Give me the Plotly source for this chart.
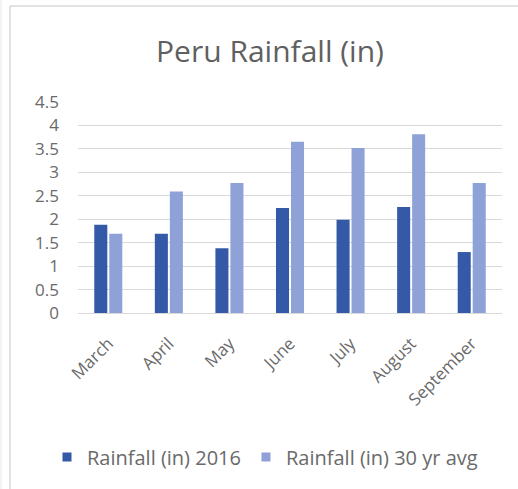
import plotly.graph_objects as go

months = ["March", "April", "May", "June", "July", "August", "September"]
rain_2016 = [1.88, 1.69, 1.38, 2.24, 1.99, 2.26, 1.30]
rain_30yr = [1.69, 2.59, 2.77, 3.65, 3.52, 3.81, 2.77]
y_ticks = [0, 0.5, 1, 1.5, 2, 2.5, 3, 3.5, 4, 4.5]
y_tick_text = ["0", "0.5", "1", "1.5", "2", "2.5", "3", "3.5", "4", "4.5"]
series_names = ["Rainfall (in) 2016", "Rainfall (in) 30 yr avg"]
series_colors = ["#3459A6", "#8EA2D8"]
title_text = "Peru Rainfall (in)"

W, H = 518, 489
L, R, T, B = 78, 16, 102, 176
pw, ph = W - L - R, H - T - B

FONT = "Open Sans, sans-serif"
TXT = "#6a6a6a"

fig = go.Figure()
for vals, name, col in zip([rain_2016, rain_30yr], series_names, series_colors):
    fig.add_trace(go.Bar(x=months, y=vals, name=name, showlegend=False,
                         marker=dict(color=col, line=dict(width=0))))
# legend entries with small square symbols
for name, col in zip(series_names, series_colors):
    fig.add_trace(go.Scatter(x=[None], y=[None], mode="markers", name=name,
                             marker=dict(symbol="square", size=9, color=col),
                             showlegend=True, hoverinfo="skip"))

def px2x(px):
    return (px - L) / pw

def py2y(py):
    return (H - B - py) / ph

shapes = [
    dict(type="line", xref="paper", yref="paper", x0=px2x(10), x1=px2x(10),
         y0=py2y(6), y1=py2y(489), line=dict(color="#d9d9d9", width=1.5)),
    dict(type="line", xref="paper", yref="paper", x0=px2x(10), x1=px2x(518),
         y0=py2y(6), y1=py2y(6), line=dict(color="#d9d9d9", width=1.5)),
    dict(type="line", xref="paper", yref="paper", x0=px2x(1), x1=px2x(1),
         y0=py2y(0), y1=py2y(489), line=dict(color="#e6e6e6", width=1)),
]

fig.update_layout(
    width=W, height=H,
    margin=dict(l=L, r=R, t=T, b=B),
    paper_bgcolor="white", plot_bgcolor="white",
    barmode="group", bargap=0.505, bargroupgap=0.13,
    title=dict(text=title_text, x=270 / W, xanchor="center", xref="container",
               y=(H - 51) / H, yanchor="middle", yref="container",
               font=dict(family=FONT, size=30, color="#606060")),
    font=dict(family=FONT, color=TXT),
    xaxis=dict(showgrid=False, showline=True, linecolor="#d9d9d9", linewidth=1,
               tickangle=-45, tickfont=dict(size=17, color=TXT),
               ticks="", ticklabelstandoff=13, fixedrange=True),
    yaxis=dict(range=[0, 4.5], tickvals=y_ticks, ticktext=y_tick_text,
               showgrid=True, gridcolor="#d9d9d9", gridwidth=1,
               zeroline=False, showline=False,
               tickfont=dict(size=17, color=TXT), ticks="",
               ticklabelstandoff=18, fixedrange=True),
    legend=dict(orientation="h", x=px2x(47), xanchor="left", xref="paper",
                y=py2y(457), yanchor="middle", yref="paper",
                font=dict(family=FONT, size=20, color=TXT),
                traceorder="normal"),
    shapes=shapes,
    showlegend=True,
)

fig.write_html("out.html")
